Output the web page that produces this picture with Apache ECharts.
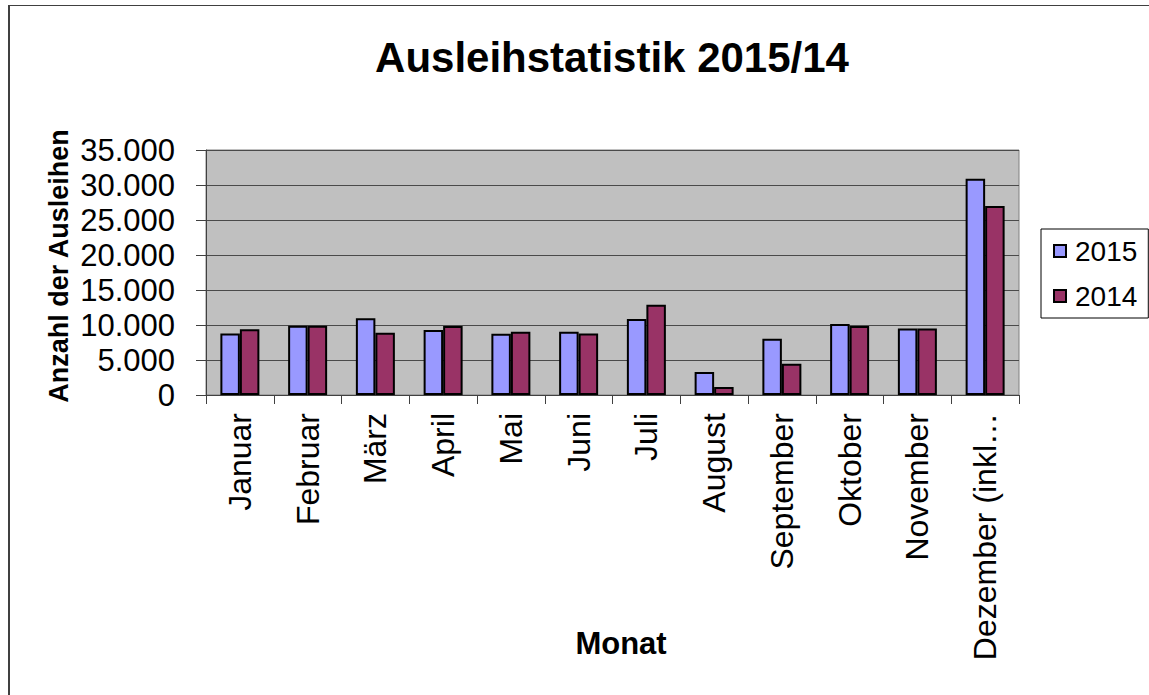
<!DOCTYPE html>
<html>
<head>
<meta charset="utf-8">
<script src="https://cdn.jsdelivr.net/npm/echarts@6/dist/echarts.min.js"></script>
<style>
html,body{margin:0;padding:0;background:#fff;}
#c{width:1149px;height:695px;}
</style>
</head>
<body>
<div id="c"></div>
<script>
const categories = ['Januar','Februar','März','April','Mai','Juni','Juli','August','September','Oktober','November','Dezember (inkl…'];
const seriesNames = ['2015','2014'];
const values2015 = [8800, 9900, 10950, 9300, 8750, 9050, 10850, 3300, 8050, 10150, 9500, 30900];
const values2014 = [9400, 9900, 8900, 9850, 9050, 8800, 12900, 1150, 4450, 9850, 9500, 27000];
const yMin = 0, yMax = 35000, yStep = 5000;
const titleText = 'Ausleihstatistik 2015/14';
const xName = 'Monat';
const yName = 'Anzahl der Ausleihen';

const FONT = '"Liberation Sans", Arial, sans-serif';
const chart = echarts.init(document.getElementById('c'), null, {renderer:'svg'});
function fmt(v){ return String(v).replace(/\B(?=(\d{3})+(?!\d))/g, '.'); }

chart.setOption({
  animation:false,
  backgroundColor:'#fff',
  grid:{left:206, top:150, width:813, height:245, show:true, backgroundColor:'#C0C0C0', borderColor:'#808080', borderWidth:1},
  legend:{
    orient:'vertical', left:1041, top:229,
    data:seriesNames,
    icon:'rect', itemWidth:12, itemHeight:12, itemGap:17,
    padding:[8,11,8,12],
    borderColor:'#000', borderWidth:1, backgroundColor:'#fff',
    textStyle:{fontFamily:FONT, fontSize:28, color:'#000', padding:[0,0,0,4]}
  },
  xAxis:{
    type:'category', data:categories,
    axisLine:{lineStyle:{color:'#404040', width:1}},
    axisTick:{show:true, length:9, lineStyle:{color:'#404040'}},
    axisLabel:{rotate:90, margin:18, interval:0, fontFamily:FONT, fontSize:32, color:'#000'},
    splitLine:{show:false}
  },
  yAxis:{
    type:'value', min:yMin, max:yMax, interval:yStep,
    axisLine:{show:true, lineStyle:{color:'#404040', width:1}},
    axisTick:{show:true, length:10, lineStyle:{color:'#404040'}},
    axisLabel:{margin:31, fontFamily:FONT, fontSize:31, color:'#000', formatter:fmt},
    splitLine:{show:true, lineStyle:{color:'#4a4a4a', width:1}}
  },
  series:[
    {name:seriesNames[0], type:'bar', data:values2015, barWidth:19.5, barGap:'0%',
     itemStyle:{color:'#9999FF', borderColor:'#000', borderWidth:2}},
    {name:seriesNames[1], type:'bar', data:values2014, barWidth:19.5, barGap:'0%',
     itemStyle:{color:'#993366', borderColor:'#000', borderWidth:2}}
  ],
  graphic:[
    {type:'line', shape:{x1:9, y1:5.5, x2:1149, y2:5.5}, style:{stroke:'#404040', lineWidth:1}, silent:true},
    {type:'line', shape:{x1:9, y1:5, x2:9, y2:695}, style:{stroke:'#404040', lineWidth:2}, silent:true},
    {type:'text', x:612, y:57, style:{text:titleText, fontFamily:FONT, fontWeight:'bold', fontSize:42, fill:'#000', textAlign:'center', textVerticalAlign:'middle'}},
    {type:'text', x:621, y:643, style:{text:xName, fontFamily:FONT, fontWeight:'bold', fontSize:31, fill:'#000', textAlign:'center', textVerticalAlign:'middle'}},
    {type:'text', x:59, y:266, rotation:Math.PI/2, style:{text:yName, fontFamily:FONT, fontWeight:'bold', fontSize:27, fill:'#000', textAlign:'center', textVerticalAlign:'middle'}}
  ]
});
</script>
</body>
</html>
